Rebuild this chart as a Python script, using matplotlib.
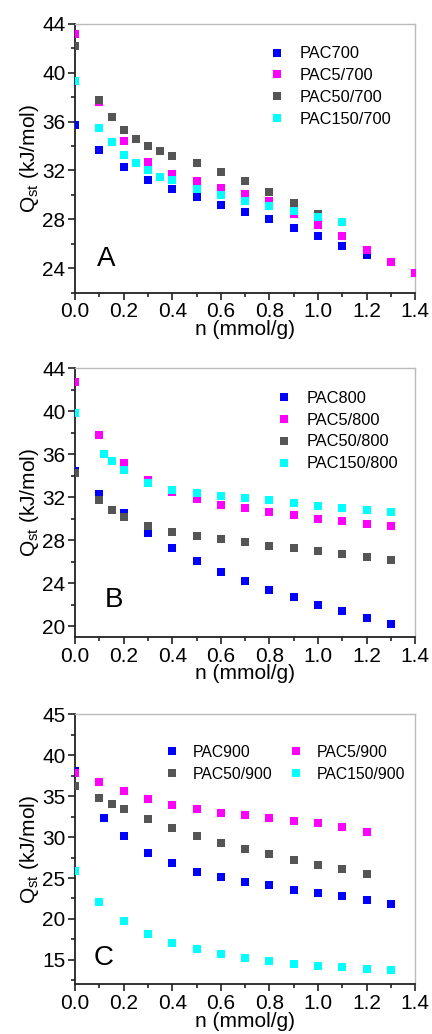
import numpy as np
import matplotlib
matplotlib.use('Agg')
from matplotlib import pyplot as plt
from matplotlib.ticker import MultipleLocator

plt.rcParams['font.family'] = ['Liberation Sans', 'DejaVu Sans']
plt.rcParams['mathtext.fontset'] = 'custom'
plt.rcParams['mathtext.rm'] = 'Liberation Sans'
plt.rcParams['mathtext.it'] = 'Liberation Sans'

# ---------------- panel A: 700 series ----------------
n_700 = [0.0, 0.1, 0.2, 0.3, 0.4, 0.5, 0.6, 0.7, 0.8, 0.9, 1.0, 1.1, 1.2]
q_700 = [35.7, 33.7, 32.3, 31.2, 30.5, 29.8, 29.2, 28.6, 28.0, 27.3, 26.6, 25.8, 25.1]
n_5_700 = [0.0, 0.1, 0.2, 0.3, 0.4, 0.5, 0.6, 0.7, 0.8, 0.9, 1.0, 1.1, 1.2, 1.3, 1.4]
q_5_700 = [43.2, 37.6, 34.4, 32.7, 31.7, 31.1, 30.6, 30.1, 29.5, 28.4, 27.5, 26.6, 25.5, 24.5, 23.6]
n_50_700 = [0.0, 0.1, 0.15, 0.2, 0.25, 0.3, 0.35, 0.4, 0.5, 0.6, 0.7, 0.8, 0.9, 1.0]
q_50_700 = [42.2, 37.8, 36.4, 35.3, 34.6, 34.0, 33.6, 33.2, 32.6, 31.9, 31.1, 30.2, 29.3, 28.4]
n_150_700 = [0.0, 0.1, 0.15, 0.2, 0.25, 0.3, 0.35, 0.4, 0.5, 0.6, 0.7, 0.8, 0.9, 1.0, 1.1]
q_150_700 = [39.3, 35.5, 34.3, 33.3, 32.6, 32.0, 31.5, 31.2, 30.5, 30.0, 29.5, 29.1, 28.7, 28.2, 27.8]

# ---------------- panel B: 800 series ----------------
n_800 = [0.0, 0.1, 0.2, 0.3, 0.4, 0.5, 0.6, 0.7, 0.8, 0.9, 1.0, 1.1, 1.2, 1.3]
q_800 = [34.4, 32.3, 30.5, 28.7, 27.3, 26.1, 25.0, 24.2, 23.4, 22.7, 22.0, 21.4, 20.8, 20.2]
n_5_800 = [0.0, 0.1, 0.2, 0.3, 0.4, 0.5, 0.6, 0.7, 0.8, 0.9, 1.0, 1.1, 1.2, 1.3]
q_5_800 = [42.7, 37.8, 35.2, 33.6, 32.5, 31.8, 31.3, 31.0, 30.6, 30.3, 30.0, 29.8, 29.5, 29.3]
n_50_800 = [0.0, 0.1, 0.15, 0.2, 0.3, 0.4, 0.5, 0.6, 0.7, 0.8, 0.9, 1.0, 1.1, 1.2, 1.3]
q_50_800 = [34.2, 31.7, 30.8, 30.2, 29.3, 28.8, 28.4, 28.1, 27.8, 27.5, 27.3, 27.0, 26.7, 26.4, 26.2]
n_150_800 = [0.0, 0.12, 0.15, 0.2, 0.3, 0.4, 0.5, 0.6, 0.7, 0.8, 0.9, 1.0, 1.1, 1.2, 1.3]
q_150_800 = [39.8, 36.0, 35.4, 34.5, 33.3, 32.7, 32.4, 32.1, 31.9, 31.7, 31.5, 31.2, 31.0, 30.8, 30.6]

# ---------------- panel C: 900 series ----------------
n_900 = [0.0, 0.12, 0.2, 0.3, 0.4, 0.5, 0.6, 0.7, 0.8, 0.9, 1.0, 1.1, 1.2, 1.3]
q_900 = [38.1, 32.3, 30.1, 28.1, 26.8, 25.8, 25.1, 24.5, 24.1, 23.6, 23.2, 22.8, 22.3, 21.8]
n_5_900 = [0.0, 0.1, 0.2, 0.3, 0.4, 0.5, 0.6, 0.7, 0.8, 0.9, 1.0, 1.1, 1.2]
q_5_900 = [37.9, 36.8, 35.7, 34.7, 33.9, 33.4, 33.0, 32.7, 32.4, 32.0, 31.7, 31.2, 30.6]
n_50_900 = [0.0, 0.1, 0.15, 0.2, 0.3, 0.4, 0.5, 0.6, 0.7, 0.8, 0.9, 1.0, 1.1, 1.2]
q_50_900 = [36.2, 34.8, 34.1, 33.5, 32.2, 31.1, 30.1, 29.3, 28.5, 27.9, 27.2, 26.6, 26.1, 25.5]
n_150_900 = [0.0, 0.1, 0.2, 0.3, 0.4, 0.5, 0.6, 0.7, 0.8, 0.9, 1.0, 1.1, 1.2, 1.3]
q_150_900 = [25.9, 22.1, 19.7, 18.2, 17.1, 16.3, 15.7, 15.2, 14.8, 14.5, 14.3, 14.1, 13.9, 13.7]

colores = ['#0000ff', '#ff00ff', '#555555', '#00ffff']

paneles = [
    ('A', [(n_700, q_700, 'PAC700'), (n_5_700, q_5_700, 'PAC5/700'),
           (n_50_700, q_50_700, 'PAC50/700'), (n_150_700, q_150_700, 'PAC150/700')],
     (22, 44), [24, 28, 32, 36, 40, 44], 2),
    ('B', [(n_800, q_800, 'PAC800'), (n_5_800, q_5_800, 'PAC5/800'),
           (n_50_800, q_50_800, 'PAC50/800'), (n_150_800, q_150_800, 'PAC150/800')],
     (19, 44), [20, 24, 28, 32, 36, 40, 44], 2),
    ('C', [(n_900, q_900, 'PAC900'), (n_5_900, q_5_900, 'PAC5/900'),
           (n_50_900, q_50_900, 'PAC50/900'), (n_150_900, q_150_900, 'PAC150/900')],
     (12, 45), [15, 20, 25, 30, 35, 40, 45], 2.5),
]

# posiciones de los ejes (fraccion de la figura)
cajas = [[0.174, 0.717, 0.787, 0.260],
         [0.174, 0.384, 0.787, 0.260],
         [0.174, 0.048, 0.787, 0.261]]
letras_pos = [(0.065, 0.10), (0.088, 0.11), (0.053, 0.07)]
leyenda_pos = [(0.535, 0.965), (0.555, 0.965)]

fig = plt.figure(figsize=(4.32, 10.34), dpi=100)

for k in range(3):
    letra, series, ylim, yt, ymin = paneles[k]
    ax = fig.add_axes(cajas[k])
    lineas = []
    for j in range(4):
        x, y, nombre = series[j]
        l, = ax.plot(x, y, 's', color=colores[j], markersize=5.4,
                     markeredgewidth=0, label=nombre, zorder=3 + j * 0.1)
        lineas.append(l)
    ax.set_xlim(0, 1.4)
    ax.set_ylim(ylim)
    ax.set_yticks(yt)
    ax.set_xticks([0.0, 0.2, 0.4, 0.6, 0.8, 1.0, 1.2, 1.4])
    ax.xaxis.set_major_formatter(matplotlib.ticker.FormatStrFormatter('%.1f'))
    ax.xaxis.set_minor_locator(MultipleLocator(0.1))
    ax.yaxis.set_minor_locator(MultipleLocator(ymin))
    ax.tick_params(which='both', direction='out', top=False, right=False,
                   labelsize=15, width=1.2, color='#222222')
    ax.tick_params(which='major', length=5)
    ax.tick_params(which='minor', length=3)
    ax.tick_params(axis='x', pad=2)
    ax.tick_params(axis='y', pad=2)
    for lado in ['top', 'right']:
        ax.spines[lado].set_color('#bbbbbb')
        ax.spines[lado].set_linewidth(1.0)
    for lado in ['left', 'bottom']:
        ax.spines[lado].set_color('#222222')
        ax.spines[lado].set_linewidth(1.3)
    ax.set_xlabel('n (mmol/g)', fontsize=15, labelpad=-1)
    ax.set_ylabel(r'Q$_{\mathrm{st}}$ (kJ/mol)', fontsize=15, labelpad=1)
    ax.text(letras_pos[k][0], letras_pos[k][1], letra, transform=ax.transAxes,
            fontsize=20)
    if k < 2:
        ax.legend(handles=lineas, loc='upper left', bbox_to_anchor=leyenda_pos[k],
                  frameon=False, fontsize=11.8, handlelength=0.8, handletextpad=1.0,
                  labelspacing=0.42, borderpad=0.3)
    else:
        orden = [lineas[0], lineas[2], lineas[1], lineas[3]]
        ax.legend(handles=orden, ncol=2, loc='upper left', bbox_to_anchor=(0.23, 0.935),
                  frameon=False, fontsize=11.3, handlelength=0.8, handletextpad=0.9,
                  labelspacing=0.45, columnspacing=1.1, borderpad=0.3)

plt.savefig('out.png', dpi=100)
